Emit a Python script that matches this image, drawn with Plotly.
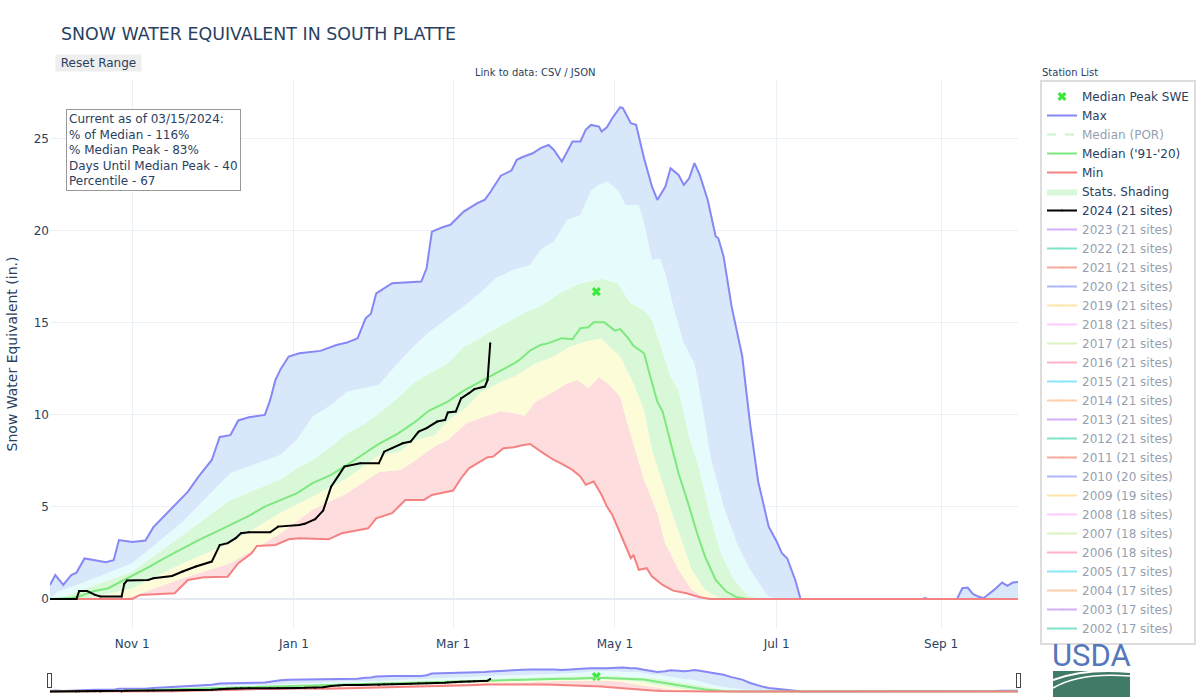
import pandas as pd
import plotly.graph_objects as go

# ---------------- data (day offsets from 2023-10-01, SWE in inches) ----------------
max_days = [0, 2, 5, 8, 10, 13, 17, 21, 24, 26, 31, 36, 39, 44, 48, 52, 56, 61, 64, 68, 71, 75, 81, 83, 85, 87,
            90, 94, 102, 108, 112, 116, 119, 121, 123, 127, 129, 140, 142, 144, 148, 151, 153, 156, 161, 164, 166,
            170, 174, 176, 178, 182, 185, 188, 190, 193, 195, 197, 200, 202, 204, 207, 208, 210, 212, 215, 216, 219,
            221, 224, 227, 229, 232, 234, 237, 239, 241, 243, 245, 248, 251, 252, 254, 257, 261, 264, 267, 269, 271,
            274, 276, 278, 281, 283, 329, 330, 331, 342, 344, 346, 348, 350, 352, 354, 356, 359, 361, 363, 365]
max_swe = [0.76, 1.3, 0.76, 1.3, 1.43, 2.2, 2.1, 2.0, 2.1, 3.2, 3.1, 3.17, 3.9, 4.65, 5.2, 5.83, 6.65, 7.55, 8.8, 8.9,
           9.7, 9.87, 10.0, 10.8, 11.9, 12.5, 13.17, 13.35, 13.48, 13.8, 13.93, 14.17, 15.25, 15.5, 16.6, 17.0, 17.16,
           17.25, 17.97, 19.96, 20.2, 20.33, 20.6, 21.05, 21.5, 21.7, 22.1, 23.0, 23.28, 23.86, 24.0, 24.22, 24.5,
           24.67, 24.4, 23.77, 24.3, 24.86, 24.86, 25.49, 25.76, 25.67, 25.4, 25.63, 26.12, 26.72, 26.67, 25.85, 25.76,
           23.95, 22.4, 21.68, 22.4, 23.4, 23.04, 22.5, 22.86, 23.68, 23.04, 21.68, 19.7, 19.6, 18.6, 15.9, 13.2, 9.5,
           6.4, 5.2, 3.93, 3.12, 2.48, 2.2, 1.03, 0.0, 0.0, 0.05, 0.0, 0.0, 0.58, 0.62, 0.27, 0.13, 0.04, 0.27, 0.49,
           0.89, 0.71, 0.89, 0.92]

min_days = [0, 31, 34, 47, 52, 58, 67, 71, 76, 78, 85, 90, 94, 105, 110, 120, 123, 129, 134, 141, 144, 152, 155, 158,
            165, 167, 171, 175, 178, 181, 186, 190, 193, 197, 200, 202, 205, 208, 210, 212, 215, 217, 219, 220, 222,
            225, 227, 231, 235, 240, 245, 249, 365]
min_swe = [0, 0, 0.22, 0.31, 1.03, 1.18, 1.21, 1.94, 2.48, 2.88, 2.93, 3.24, 3.3, 3.24, 3.57, 3.84, 4.38, 4.66, 5.38,
           5.38, 5.65, 5.89, 6.56, 7.1, 7.7, 7.73, 8.19, 8.24, 8.35, 8.42, 7.92, 7.55, 7.34, 7.01, 6.65, 6.2, 6.38,
           5.65, 5.02, 4.57, 3.57, 2.84, 2.21, 2.39, 1.58, 1.67, 1.21, 0.76, 0.45, 0.31, 0.09, 0, 0]

med_days = [0, 8, 11, 16, 22, 28, 37, 43, 50, 56, 62, 68, 75, 81, 87, 93, 99, 106, 112, 118, 124, 131, 137, 143, 150,
            156, 162, 168, 175, 177, 181, 185, 188, 193, 197, 200, 203, 205, 209, 213, 215, 218, 220, 224, 226, 229,
            231, 234, 237, 241, 244, 247, 251, 255, 259, 263, 365]
med_swe = [0, 0.05, 0.13, 0.4, 0.58, 1.03, 1.72, 2.21, 2.75, 3.2, 3.6, 4.02, 4.51, 5.02, 5.38, 5.74, 6.29, 6.74, 7.28,
           7.83, 8.42, 8.97, 9.55, 10.24, 10.72, 11.32, 11.81, 12.26, 12.8, 12.99, 13.5, 13.8, 13.9, 14.17, 14.11,
           14.71, 14.76, 15.04, 15.04, 14.58, 14.66, 14.17, 13.75, 13.35, 12.26, 10.72, 10.18, 8.46, 6.83, 5.02, 3.57,
           2.3, 1.03, 0.4, 0.09, 0, 0]

p10_days = [0, 25, 31, 50, 68, 87, 99, 112, 124, 132, 137, 145, 150, 157, 162, 170, 175, 179, 183, 190, 195, 199, 203,
            207, 211, 215, 217, 220, 224, 229, 232, 237, 242, 247, 251, 365]
p10_swe = [0, 0, 0.13, 1.12, 1.94, 3.57, 4.84, 5.74, 6.9, 7.0, 7.46, 8.28, 8.64, 9.55, 9.82, 10.2, 10.1, 9.95, 10.72,
           11.27, 11.72, 11.9, 11.45, 12.08, 11.63, 11.0, 9.9, 8.46, 6.47, 4.66, 3.03, 1.58, 0.49, 0.09, 0, 0]

p30_days = [0, 15, 31, 50, 68, 87, 99, 112, 124, 132, 137, 145, 150, 157, 162, 170, 175, 177, 181, 183, 190, 196, 202,
            208, 211, 215, 220, 224, 227, 231, 235, 239, 242, 247, 252, 256, 365]
p30_swe = [0, 0.03, 0.58, 1.94, 3.03, 4.7, 5.56, 6.56, 7.8, 8.0, 8.6, 8.9, 9.7, 10.4, 11.18, 11.8, 12.08, 12.26, 12.63,
           12.8, 13.17, 13.7, 13.99, 14.17, 13.7, 13.17, 11.72, 10.27, 8.1, 6.29, 4.47, 2.84, 1.58, 0.49, 0.09, 0, 0]

p70_days = [0, 5, 12, 31, 50, 68, 87, 93, 99, 106, 112, 118, 124, 131, 137, 143, 150, 156, 162, 168, 175, 181, 185,
            192, 200, 208, 214, 219, 224, 227, 230, 234, 237, 241, 245, 249, 253, 258, 263, 268, 365]
p70_swe = [0, 0.1, 0.5, 1.49, 3.48, 5.38, 6.5, 7.1, 7.55, 8.28, 9.0, 9.46, 10.09, 10.9, 11.72, 12.26, 12.8, 13.7, 14.17,
           14.7, 15.25, 15.7, 15.9, 16.6, 17.15, 17.4, 17.15, 16.07, 15.7, 15.16, 13.9, 12.08, 11.36, 8.82, 7.0, 4.47,
           2.48, 1.03, 0.22, 0, 0]

p90_days = [0, 3, 12, 31, 50, 68, 87, 93, 99, 106, 112, 118, 124, 131, 137, 143, 150, 156, 162, 168, 175, 181, 185,
            190, 195, 200, 204, 207, 210, 214, 217, 222, 224, 227, 230, 232, 235, 239, 243, 246, 249, 254, 259, 264,
            269, 271, 275, 365]
p90_swe = [0, 0.4, 0.85, 1.94, 4.2, 6.83, 7.83, 8.64, 9.9, 10.54, 11.27, 11.45, 11.63, 12.8, 13.7, 14.5, 15.25, 15.9,
           16.6, 17.43, 17.9, 18.15, 18.97, 19.42, 20.6, 20.87, 22.2, 22.5, 22.68, 22.23, 21.41, 21.41, 20.42, 18.42,
           18.5, 17.7, 15.9, 13.9, 12.8, 10.45, 7.74, 5.02, 3.03, 1.58, 0.49, 0.13, 0, 0]

wy2024_days = [0, 10, 11, 14, 17, 19, 27, 28, 29, 37, 39, 46, 50, 55, 61, 64, 67, 70, 72, 75, 83, 86, 94, 96, 100, 103,
               106, 109, 111, 117, 124, 126, 129, 133, 136, 139, 142, 146, 149, 150, 153, 155, 158, 160, 164, 165, 166]
wy2024_swe = [0, 0, 0.43, 0.43, 0.22, 0.13, 0.13, 0.82, 1.0, 1.03, 1.12, 1.25, 1.49, 1.76, 2.03, 2.93, 3.03, 3.3, 3.57,
              3.62, 3.62, 3.93, 4.02, 4.08, 4.33, 4.8, 6.1, 6.74, 7.19, 7.37, 7.37, 8.0, 8.19, 8.46, 8.55, 9.09, 9.28,
              9.64, 9.73, 10.13, 10.18, 10.9, 11.18, 11.4, 11.54, 11.9, 13.9]

peak_day = [206]
peak_swe = [16.7]

past_years = ["2023", "2022", "2021", "2020", "2019", "2018", "2017", "2016", "2015", "2014", "2013", "2012",
              "2011", "2010", "2009", "2008", "2007", "2006", "2005", "2004", "2003", "2002"]
past_sites = [21, 21, 21, 21, 21, 21, 21, 21, 21, 21, 21, 21, 21, 20, 19, 18, 18, 18, 17, 17, 17, 17]
year_colors = ["#ab63fa", "#00cc96", "#EF553B", "#636efa", "#FECB52", "#FF97FF", "#B6E880", "#FF6692",
               "#19d3f3", "#FFA15A"]

info_lines = ["Current as of 03/15/2024:", "% of Median - 116%", "% Median Peak - 83%",
              "Days Until Median Peak - 40", "Percentile - 67"]

# ---------------- helpers ----------------
BASE = pd.Timestamp("2023-10-01")


def to_dates(days):
    return [BASE + pd.Timedelta(days=d) for d in days]


W, H = 1200, 700
ML, MR, MT, MB = 50, 182, 80, 72
PW, PH = W - ML - MR, H - MT - MB


def px(xp):
    return (xp - ML) / PW


def py(yp):
    return (H - MB - yp) / PH


FONT = "Verdana, 'DejaVu Sans', sans-serif"
TXT = "#2a3f5f"

C_MAX = "rgb(135,135,245)"
C_MIN = "rgb(245,130,130)"
C_MED = "rgb(125,232,125)"

fig = go.Figure()

# shading bands
band_common = dict(mode="lines", line=dict(width=0), hoverinfo="skip", legendgroup="shade")
fig.add_trace(go.Scatter(x=to_dates(min_days), y=min_swe, showlegend=False, **band_common))
fig.add_trace(go.Scatter(x=to_dates(p10_days), y=p10_swe, fill="tonexty", fillcolor="#fddddd",
                         showlegend=False, **band_common))
fig.add_trace(go.Scatter(x=to_dates(p30_days), y=p30_swe, fill="tonexty", fillcolor="#fcfcd8",
                         showlegend=False, **band_common))
fig.add_trace(go.Scatter(x=to_dates(p70_days), y=p70_swe, fill="tonexty", fillcolor="#d8f8d8",
                         name="Stats. Shading", showlegend=True, legendrank=6, **band_common))
fig.add_trace(go.Scatter(x=to_dates(p90_days), y=p90_swe, fill="tonexty", fillcolor="#e6fcfc",
                         showlegend=False, **band_common))
fig.add_trace(go.Scatter(x=to_dates(max_days), y=max_swe, fill="tonexty", fillcolor="#d8e7fa",
                         showlegend=False, **band_common))

# statistic lines
fig.add_trace(go.Scatter(x=to_dates(peak_day), y=peak_swe, mode="markers", name="Median Peak SWE",
                         marker=dict(symbol="x", size=8, color="rgb(60,232,60)"), legendrank=1))
fig.add_trace(go.Scatter(x=to_dates(max_days), y=max_swe, mode="lines", name="Max",
                         line=dict(color=C_MAX, width=2), legendrank=2))
fig.add_trace(go.Scatter(x=[BASE], y=[None], mode="lines", name="Median (POR)", visible="legendonly",
                         line=dict(color="rgb(150,235,150)", width=2, dash="dash"), legendrank=3))
fig.add_trace(go.Scatter(x=to_dates(med_days), y=med_swe, mode="lines", name="Median ('91-'20)",
                         line=dict(color=C_MED, width=2), legendrank=4))
fig.add_trace(go.Scatter(x=to_dates(min_days), y=min_swe, mode="lines", name="Min",
                         line=dict(color=C_MIN, width=2), legendrank=5))
fig.add_trace(go.Scatter(x=to_dates(wy2024_days), y=wy2024_swe, mode="lines+markers", name="2024 (21 sites)",
                         line=dict(color="black", width=2), marker=dict(size=2, color="black"), legendrank=7))

for i, (yr, n) in enumerate(zip(past_years, past_sites)):
    fig.add_trace(go.Scatter(x=[BASE], y=[None], mode="lines+markers", name=f"{yr} ({n} sites)",
                             visible="legendonly",
                             line=dict(color=year_colors[i % len(year_colors)], width=2),
                             marker=dict(size=2), legendrank=8 + i))

# ---------------- layout ----------------
fig.update_layout(
    template="plotly_white",
    width=W, height=H,
    margin=dict(l=ML, r=MR, t=MT, b=MB, autoexpand=False),
    font=dict(family=FONT, color=TXT, size=12),
    title=dict(text="SNOW WATER EQUIVALENT IN SOUTH PLATTE", x=61 / W, xanchor="left",
               y=1 - 34 / H, yanchor="middle", font=dict(size=17.4, color=TXT)),
    showlegend=True,
    legend=dict(x=px(1040), y=1, xanchor="left", yanchor="top", bordercolor="#dddddd", borderwidth=2,
                font=dict(size=12), maxheight=620, tracegroupgap=0),
    xaxis=dict(range=[BASE, BASE + pd.Timedelta(days=365)], tickformat="%b %-d", dtick="M2",
               tick0="2023-11-01", showgrid=True, gridcolor="#ebf0f8",
               ticks="outside", ticklen=5, tickcolor="rgba(0,0,0,0)",
               rangeslider=dict(visible=True, thickness=0.05, bgcolor="white",
                                range=[BASE, BASE + pd.Timedelta(days=365)])),
    yaxis=dict(range=[-1.58, 28.2], dtick=5, tick0=0, gridcolor="#ebf0f8", zeroline=True,
               zerolinecolor="#e4e9f2", zerolinewidth=2,
               title=dict(text="Snow Water Equivalent (in.)", font=dict(size=14, color=TXT), standoff=12)),
    annotations=[
        dict(text="&nbsp;Reset Range&nbsp;", xref="paper", yref="paper", x=px(55), y=py(54),
             xanchor="left", yanchor="top", showarrow=False, bgcolor="#eeeeee", borderpad=1,
             font=dict(size=12, color=TXT)),
        dict(text="Link to data: CSV / JSON", xref="paper", yref="paper", x=px(535), y=py(72),
             xanchor="center", yanchor="middle", showarrow=False, font=dict(size=10, color=TXT)),
        dict(text="Station List", xref="paper", yref="paper", x=px(1040), y=py(72),
             xanchor="left", yanchor="middle", showarrow=False, font=dict(size=10, color=TXT)),
        dict(text="<br>".join(info_lines), xref="paper", yref="paper", x=px(66), y=py(109),
             xanchor="left", yanchor="top", align="left", showarrow=False, bgcolor="white",
             bordercolor="#999999", borderwidth=1, borderpad=2, font=dict(size=12, color=TXT)),
        dict(text="USDA", xref="paper", yref="paper", x=px(1091), y=py(655), xanchor="center",
             yanchor="middle", showarrow=False,
             font=dict(size=31, color="#5577bb", family="Roboto, 'Liberation Sans', sans-serif")),
    ],
    shapes=[
        dict(type="rect", xref="paper", yref="paper", x0=px(1053), x1=px(1130), y0=py(697), y1=py(671),
             fillcolor="#3f7b66", line=dict(width=0)),
        dict(type="path", xref="paper", yref="paper",
             path=f"M {px(1053)} {py(680)} Q {px(1085)} {py(668)} {px(1130)} {py(672)}",
             line=dict(color="white", width=2)),
        dict(type="path", xref="paper", yref="paper",
             path=f"M {px(1053)} {py(688)} Q {px(1080)} {py(672)} {px(1130)} {py(676)}",
             line=dict(color="white", width=1.5)),
    ],
)

fig.write_html("out.html")
